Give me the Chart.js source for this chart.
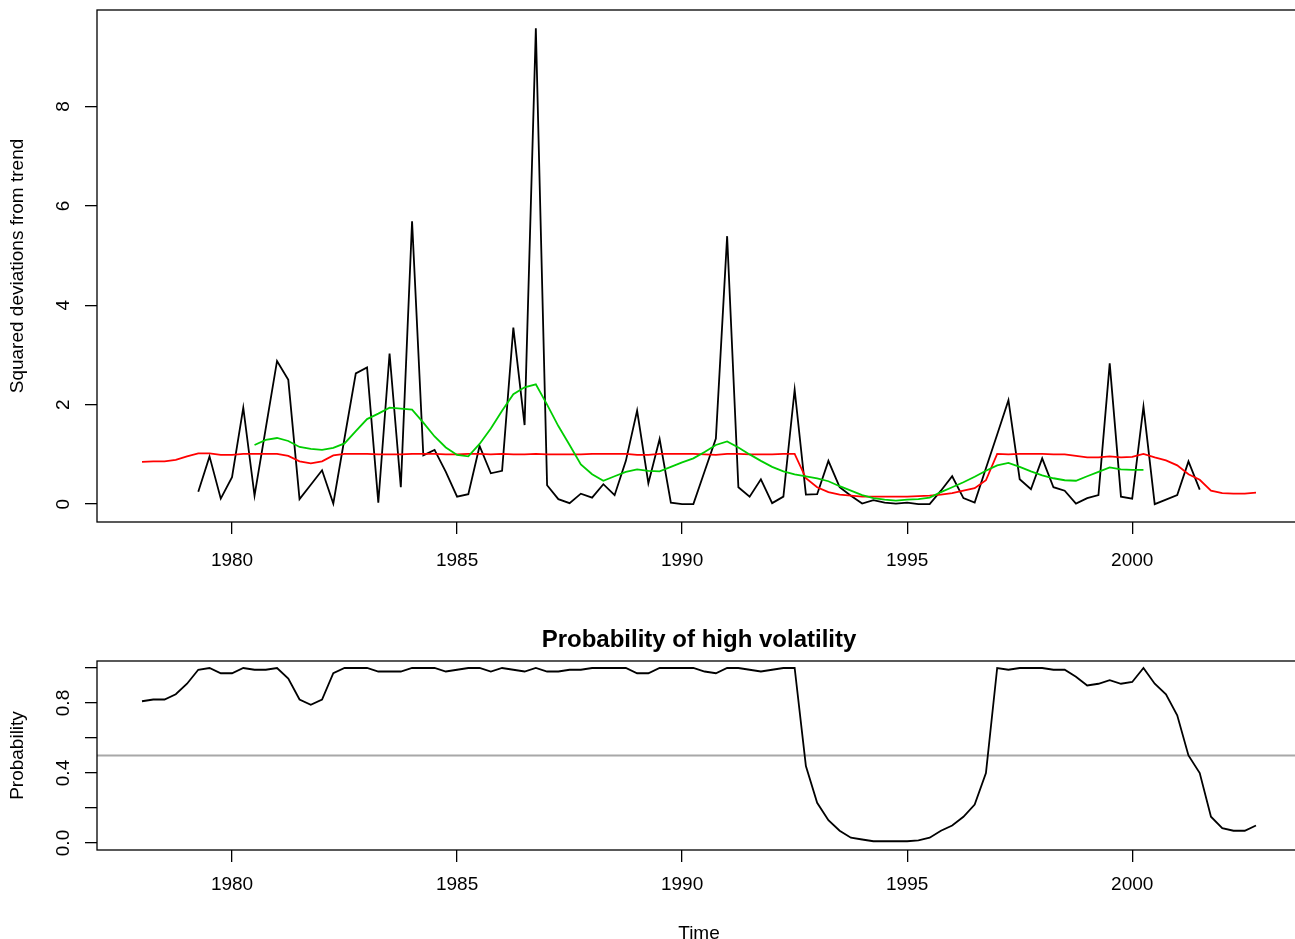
<!DOCTYPE html>
<html>
<head>
<meta charset="utf-8">
<script src="https://cdn.jsdelivr.net/npm/chart.js@4"></script>
<style>
  html, body { margin: 0; padding: 0; background: #fff; overflow: hidden; width: 1295px; height: 939px; }
  canvas { position: absolute; left: 0; }
  #topChart { top: 0; }
  #bottomChart { top: 600px; }
</style>
</head>
<body>
<canvas id="topChart" width="1320" height="600"></canvas>
<canvas id="bottomChart" width="1320" height="343"></canvas>
<script>
// --- Дані (квартальні, 1978 Q1 .. 2002 Q4) ---
const startYear = 1978;
const perYear = 4;

const squaredDev = [
  null, null, null, null,
  null, 0.25, 0.96, 0.11,
  0.54, 1.94, 0.17, 1.53,
  2.88, 2.50, 0.10, 0.39,
  0.68, 0.01, 1.33, 2.63,
  2.75, 0.03, 3.03, 0.34,
  5.69, 0.98, 1.09, 0.65,
  0.15, 0.20, 1.17, 0.62,
  0.67, 3.55, 1.59, 9.57,
  0.38, 0.10, 0.02, 0.21,
  0.13, 0.40, 0.18, 0.87,
  1.88, 0.42, 1.31, 0.03,
  0.00, 0.00, 0.66, 1.32,
  5.39, 0.34, 0.15, 0.50,
  0.02, 0.15, 2.30, 0.19,
  0.20, 0.87, 0.34, 0.17,
  0.01, 0.08, 0.03, 0.01,
  0.03, 0.00, 0.00, 0.27,
  0.56, 0.12, 0.03, 0.72,
  1.40, 2.09, 0.50, 0.30,
  0.92, 0.34, 0.27, 0.01,
  0.12, 0.18, 2.83, 0.15,
  0.11, 1.96, 0.00, 0.09,
  0.18, 0.86, 0.29, null,
  null, null, null, null
];

const fittedVar = [
  0.85, 0.86, 0.86, 0.89,
  0.96, 1.02, 1.02, 0.99,
  0.99, 1.01, 1.01, 1.01,
  1.01, 0.97, 0.86, 0.82,
  0.86, 0.98, 1.01, 1.01,
  1.01, 1.00, 1.00, 1.00,
  1.01, 1.01, 1.01, 1.00,
  1.00, 1.01, 1.01, 1.00,
  1.01, 1.00, 1.00, 1.01,
  1.00, 1.00, 1.00, 1.00,
  1.01, 1.01, 1.01, 1.01,
  0.99, 0.99, 1.01, 1.01,
  1.01, 1.01, 1.00, 0.99,
  1.01, 1.01, 1.00, 1.00,
  1.00, 1.01, 1.01, 0.52,
  0.34, 0.24, 0.19, 0.17,
  0.15, 0.15, 0.15, 0.15,
  0.15, 0.16, 0.17, 0.19,
  0.22, 0.27, 0.32, 0.48,
  1.01, 1.00, 1.01, 1.01,
  1.01, 1.00, 1.00, 0.97,
  0.94, 0.94, 0.96, 0.94,
  0.95, 1.01, 0.94, 0.88,
  0.78, 0.60, 0.49, 0.27,
  0.22, 0.21, 0.21, 0.23
];

const movingAvg = [
  null, null, null, null,
  null, null, null, null,
  null, null, 1.19, 1.29,
  1.33, 1.27, 1.15, 1.11,
  1.09, 1.13, 1.22, 1.47,
  1.71, 1.82, 1.94, 1.92,
  1.90, 1.64, 1.36, 1.14,
  0.99, 0.96, 1.21, 1.52,
  1.88, 2.21, 2.35, 2.41,
  2.00, 1.57, 1.19, 0.80,
  0.60, 0.47, 0.56, 0.65,
  0.70, 0.67, 0.66, 0.75,
  0.84, 0.92, 1.05, 1.19,
  1.26, 1.14, 1.00, 0.87,
  0.75, 0.66, 0.60, 0.56,
  0.52, 0.46, 0.36, 0.27,
  0.18, 0.12, 0.09, 0.07,
  0.09, 0.10, 0.13, 0.24,
  0.34, 0.44, 0.55, 0.67,
  0.78, 0.83, 0.75, 0.66,
  0.58, 0.52, 0.48, 0.47,
  0.56, 0.65, 0.74, 0.70,
  0.69, 0.69, null, null,
  null, null, null, null,
  null, null, null, null
];

const probHigh = [
  0.81, 0.82, 0.82, 0.85,
  0.91, 0.99, 1.00, 0.97,
  0.97, 1.00, 0.99, 0.99,
  1.00, 0.94, 0.82, 0.79,
  0.82, 0.97, 1.00, 1.00,
  1.00, 0.98, 0.98, 0.98,
  1.00, 1.00, 1.00, 0.98,
  0.99, 1.00, 1.00, 0.98,
  1.00, 0.99, 0.98, 1.00,
  0.98, 0.98, 0.99, 0.99,
  1.00, 1.00, 1.00, 1.00,
  0.97, 0.97, 1.00, 1.00,
  1.00, 1.00, 0.98, 0.97,
  1.00, 1.00, 0.99, 0.98,
  0.99, 1.00, 1.00, 0.44,
  0.23, 0.13, 0.07, 0.03,
  0.02, 0.01, 0.01, 0.01,
  0.01, 0.015, 0.03, 0.07,
  0.10, 0.15, 0.22, 0.40,
  1.00, 0.99, 1.00, 1.00,
  1.00, 0.99, 0.99, 0.95,
  0.90, 0.91, 0.93, 0.91,
  0.92, 1.00, 0.91, 0.85,
  0.73, 0.50, 0.40, 0.15,
  0.085, 0.07, 0.07, 0.10
];

const threshold = 0.5;

// --- Осі ---
const xTicks = [1980, 1985, 1990, 1995, 2000];
const topYTicks = [0, 2, 4, 6, 8];
const topYLabels = ["0", "2", "4", "6", "8"];
const bottomYTicks = [0, 0.2, 0.4, 0.6, 0.8, 1.0];
const bottomYLabels = ["0.0", "", "0.4", "", "0.8", ""];

const xMin = 1977.0, xMax = 2003.75;
const fam = "'Liberation Sans', Arial, Helvetica, sans-serif";
Chart.defaults.font.family = fam;
Chart.defaults.color = "#000";

const time = probHigh.map((_, i) => startYear + i / perYear);
const toPoints = (arr) => arr.map((v, i) => ({ x: time[i], y: v }));

// рамка як у R + повернуті підписи осі y
const rBox = {
  id: "rBox",
  afterDraw(chart, args, opts) {
    const { ctx, chartArea: a } = chart;
    const y = chart.scales.y;
    ctx.save();
    ctx.strokeStyle = "#000";
    ctx.lineWidth = 1.3;
    ctx.strokeRect(a.left, a.top, a.right - a.left, a.bottom - a.top);
    ctx.fillStyle = "#000";
    ctx.font = "19px " + fam;
    ctx.textAlign = "center";
    ctx.textBaseline = "middle";
    opts.values.forEach((v, i) => {
      if (!opts.labels[i]) return;
      ctx.save();
      ctx.translate(opts.labelX, y.getPixelForValue(v));
      ctx.rotate(-Math.PI / 2);
      ctx.fillText(opts.labels[i], 0, 0);
      ctx.restore();
    });
    ctx.restore();
  }
};

function xAxis(height, labelPad, titleText) {
  return {
    type: "linear",
    min: xMin,
    max: xMax,
    afterBuildTicks: (s) => { s.ticks = xTicks.map((v) => ({ value: v })); },
    afterFit: (s) => { s.height = height; },
    grid: { drawOnChartArea: false, drawTicks: true, tickLength: 12, color: "#000", lineWidth: 1.3 },
    border: { display: false },
    ticks: { font: { size: 19 }, padding: labelPad, maxRotation: 0, callback: (v) => String(v) },
    title: titleText
      ? { display: true, text: titleText, font: { size: 19, lineHeight: 1 }, padding: { top: 0, bottom: 0 } }
      : { display: false }
  };
}

function yAxis(min, max, tickVals, titleText) {
  return {
    type: "linear",
    min: min,
    max: max,
    afterBuildTicks: (s) => { s.ticks = tickVals.map((v) => ({ value: v })); },
    afterFit: (s) => { s.width = 97; },
    grid: { drawOnChartArea: false, drawTicks: true, tickLength: 12, color: "#000", lineWidth: 1.3 },
    border: { display: false },
    ticks: { display: false },
    title: { display: true, text: titleText, font: { size: 19, lineHeight: 1 }, padding: { top: 8.5, bottom: 0 } }
  };
}

const lineStyle = { pointRadius: 0, borderWidth: 1.8, tension: 0, spanGaps: false, fill: false };

// --- Верхній графік ---
new Chart(document.getElementById("topChart"), {
  type: "line",
  data: {
    datasets: [
      { ...lineStyle, data: toPoints(squaredDev), borderColor: "#000000", order: 3 },
      { ...lineStyle, data: toPoints(fittedVar), borderColor: "#ff0000", order: 2 },
      { ...lineStyle, data: toPoints(movingAvg), borderColor: "#00cd00", order: 1 }
    ]
  },
  options: {
    responsive: false,
    animation: false,
    devicePixelRatio: 1,
    layout: { padding: { top: 10, right: 19, left: 0, bottom: 0 } },
    scales: {
      x: xAxis(78, 15, null),
      y: yAxis(-0.36, 9.94, topYTicks, "Squared deviations from trend")
    },
    plugins: {
      legend: { display: false },
      tooltip: { enabled: false },
      rBox: { values: topYTicks, labels: topYLabels, labelX: 63.5 }
    }
  },
  plugins: [rBox]
});

// --- Нижній графік ---
new Chart(document.getElementById("bottomChart"), {
  type: "line",
  data: {
    datasets: [
      { ...lineStyle, data: toPoints(probHigh), borderColor: "#000000" },
      { ...lineStyle, data: [{ x: xMin, y: threshold }, { x: xMax, y: threshold }], borderColor: "#a8a8a8" }
    ]
  },
  options: {
    responsive: false,
    animation: false,
    devicePixelRatio: 1,
    layout: { padding: { top: 0, right: 19, left: 0, bottom: 0 } },
    scales: {
      x: xAxis(93, 11, "Time"),
      y: yAxis(-0.04, 1.04, bottomYTicks, "Probability")
    },
    plugins: {
      legend: { display: false },
      tooltip: { enabled: false },
      title: {
        display: true,
        fullSize: false,
        text: "Probability of high volatility",
        font: { size: 24, weight: "bold", lineHeight: 1 },
        padding: { top: 28, bottom: 9 }
      },
      rBox: { values: bottomYTicks, labels: bottomYLabels, labelX: 63.5 }
    }
  },
  plugins: [rBox]
});
</script>
</body>
</html>
